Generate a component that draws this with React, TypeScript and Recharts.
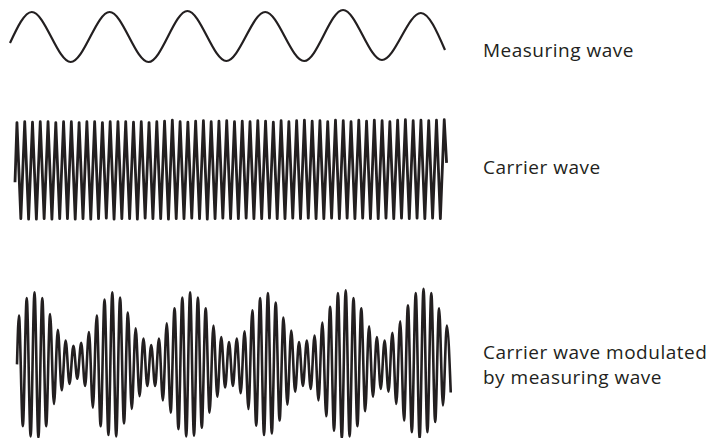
import { LineChart, Line, XAxis, YAxis } from "recharts"

// measuring wave: turning points, t in measuring-wave cycles
const measuringT = [0, 0.28, 0.78, 1.28, 1.78, 2.28, 2.78, 3.28, 3.78, 4.28, 4.78, 5.28, 5.59]
const measuringV = [-0.24, 1.0, -1.0, 1.0, -1.0, 1.04, -0.96, 1.0, -0.96, 1.08, -0.92, 0.96, -0.52]

// carrier wave: crest at t = k, trough at t = k + 0.5 (t in carrier cycles)
const carrierStart = { t: -0.25, v: -0.25 }
const carrierPeaks = [
  0.98, 1.0, 0.99, 1.0, 1.0, 0.98, 1.0, 1.0, 0.98, 1.0,
  1.0, 0.98, 1.0, 1.0, 1.0, 0.99, 1.0, 0.98, 1.0, 1.01,
  1.03, 1.0, 0.99, 1.01, 1.02, 1.0, 1.01, 1.02, 1.0, 1.01,
  1.0, 1.02, 1.01, 0.99, 1.02, 1.0, 1.02, 1.03, 1.01, 1.02,
  1.0, 1.03, 1.02, 1.0, 1.03, 1.01, 1.03, 1.02, 1.0, 1.03,
  1.04, 1.02, 1.03, 1.02, 1.03, 1.04,
]
const carrierTroughs = [
  1.0, 1.01, 1.01, 1.0, 1.01, 1.0, 1.0, 1.01, 1.0, 1.01,
  1.0, 0.99, 1.01, 1.0, 1.0, 1.01, 0.99, 1.0, 1.0, 1.01,
  1.0, 1.0, 0.99, 1.0, 1.01, 1.0, 0.99, 1.0, 1.0, 0.99,
  1.0, 1.0, 0.99, 1.0, 1.0, 0.99, 1.0, 0.99, 1.0, 1.0,
  0.99, 1.0, 0.99, 1.0, 0.99, 1.0, 1.0, 0.99, 1.0, 0.99,
  1.0, 0.99, 1.0, 0.99, 1.0,
]
const carrierEnd = { t: 55.3, v: 0.15 }

// modulated wave: crest heights follow the measuring wave envelope
const modulatedStart = { t: -0.25, v: 0 }
const modulatedPeaks = [
  0.68, 0.92, 1.0, 0.92, 0.7, 0.48, 0.33, 0.26, 0.3, 0.45,
  0.68, 0.9, 1.0, 0.93, 0.72, 0.5, 0.36, 0.27, 0.36, 0.57,
  0.78, 0.93, 1.0, 0.93, 0.78, 0.54, 0.38, 0.31, 0.36, 0.46,
  0.75, 0.92, 0.99, 0.86, 0.65, 0.47, 0.31, 0.33, 0.4, 0.58,
  0.8, 0.99, 1.03, 0.92, 0.78, 0.53, 0.38, 0.33, 0.44, 0.6,
  0.82, 0.99, 1.05, 0.99, 0.78, 0.54,
]
const modulatedTroughs = [
  0.86, 1.0, 1.02, 0.86, 0.55, 0.36, 0.27, 0.2, 0.3, 0.6,
  0.86, 0.98, 1.0, 0.82, 0.62, 0.44, 0.3, 0.3, 0.5, 0.67,
  0.9, 1.0, 0.99, 0.88, 0.67, 0.45, 0.32, 0.3, 0.4, 0.62,
  0.85, 0.98, 0.96, 0.78, 0.56, 0.38, 0.3, 0.34, 0.5, 0.72,
  0.92, 1.03, 1.0, 0.86, 0.65, 0.45, 0.34, 0.38, 0.55, 0.78,
  0.94, 1.03, 0.94, 0.8, 0.57, 0.39,
]

const labels = ["Measuring wave", "Carrier wave", "Carrier wave modulated", "by measuring wave"]

const INK = "#231f20"

const measuringData = measuringT.map((t, i) => ({ t, v: measuringV[i] }))

function zigzag(start: { t: number; v: number }, peaks: number[], troughs: number[], end?: { t: number; v: number }) {
  const rows = [start]
  peaks.forEach((p, k) => {
    rows.push({ t: k, v: p })
    if (k < troughs.length) rows.push({ t: k + 0.5, v: -troughs[k] })
  })
  if (end) rows.push(end)
  return rows
}

const carrierData = zigzag(carrierStart, carrierPeaks, carrierTroughs, carrierEnd)
const modulatedData = zigzag(modulatedStart, modulatedPeaks, modulatedTroughs)

const PAD = 6

interface WaveProps {
  data: { t: number; v: number }[]
  left: number
  right: number
  center: number
  amp: number
  width: number
  curve: "monotone" | "linear"
}

// one wave strip; amp = pixels for a value of 1
function Wave({ data, left, right, center, amp, width, curve }: WaveProps) {
  const tMin = data[0].t
  const tMax = data[data.length - 1].t
  const plotH = amp * 2.4
  return (
    <div style={{ position: "absolute", left: left - PAD, top: center - plotH / 2 - PAD }}>
      <LineChart
        width={right - left + PAD * 2}
        height={plotH + PAD * 2}
        data={data}
        margin={{ top: PAD, right: PAD, bottom: PAD, left: PAD }}
      >
        <XAxis dataKey="t" type="number" domain={[tMin, tMax]} hide />
        <YAxis type="number" domain={[-1.2, 1.2]} hide />
        <Line
          dataKey="v"
          type={curve}
          stroke={INK}
          strokeWidth={width}
          strokeLinejoin="round"
          dot={false}
          isAnimationActive={false}
        />
      </LineChart>
    </div>
  )
}

export default function App() {
  const textStyle = { fontFamily: "'Open Sans', sans-serif", fontSize: 19, letterSpacing: 0.5, fill: INK }
  return (
    <div style={{ position: "relative", width: 711, height: 438, background: "#fff", overflow: "hidden" }}>
      <style>{"body{margin:0}"}</style>
      <Wave data={measuringData} left={10} right={445} center={37} amp={25} width={2.2} curve="monotone" />
      <Wave data={carrierData} left={14.8} right={446.4} center={170} amp={48.5} width={2.8} curve="linear" />
      <Wave data={modulatedData} left={17.05} right={450.8} center={364.5} amp={72} width={2.6} curve="monotone" />
      <svg width={711} height={438} style={{ position: "absolute", left: 0, top: 0, pointerEvents: "none" }}>
        <text x={483} y={57} style={textStyle}>{labels[0]}</text>
        <text x={483} y={174} style={textStyle}>{labels[1]}</text>
        <text x={483} y={359} style={textStyle}>{labels[2]}</text>
        <text x={483} y={384} style={textStyle}>{labels[3]}</text>
      </svg>
    </div>
  )
}
